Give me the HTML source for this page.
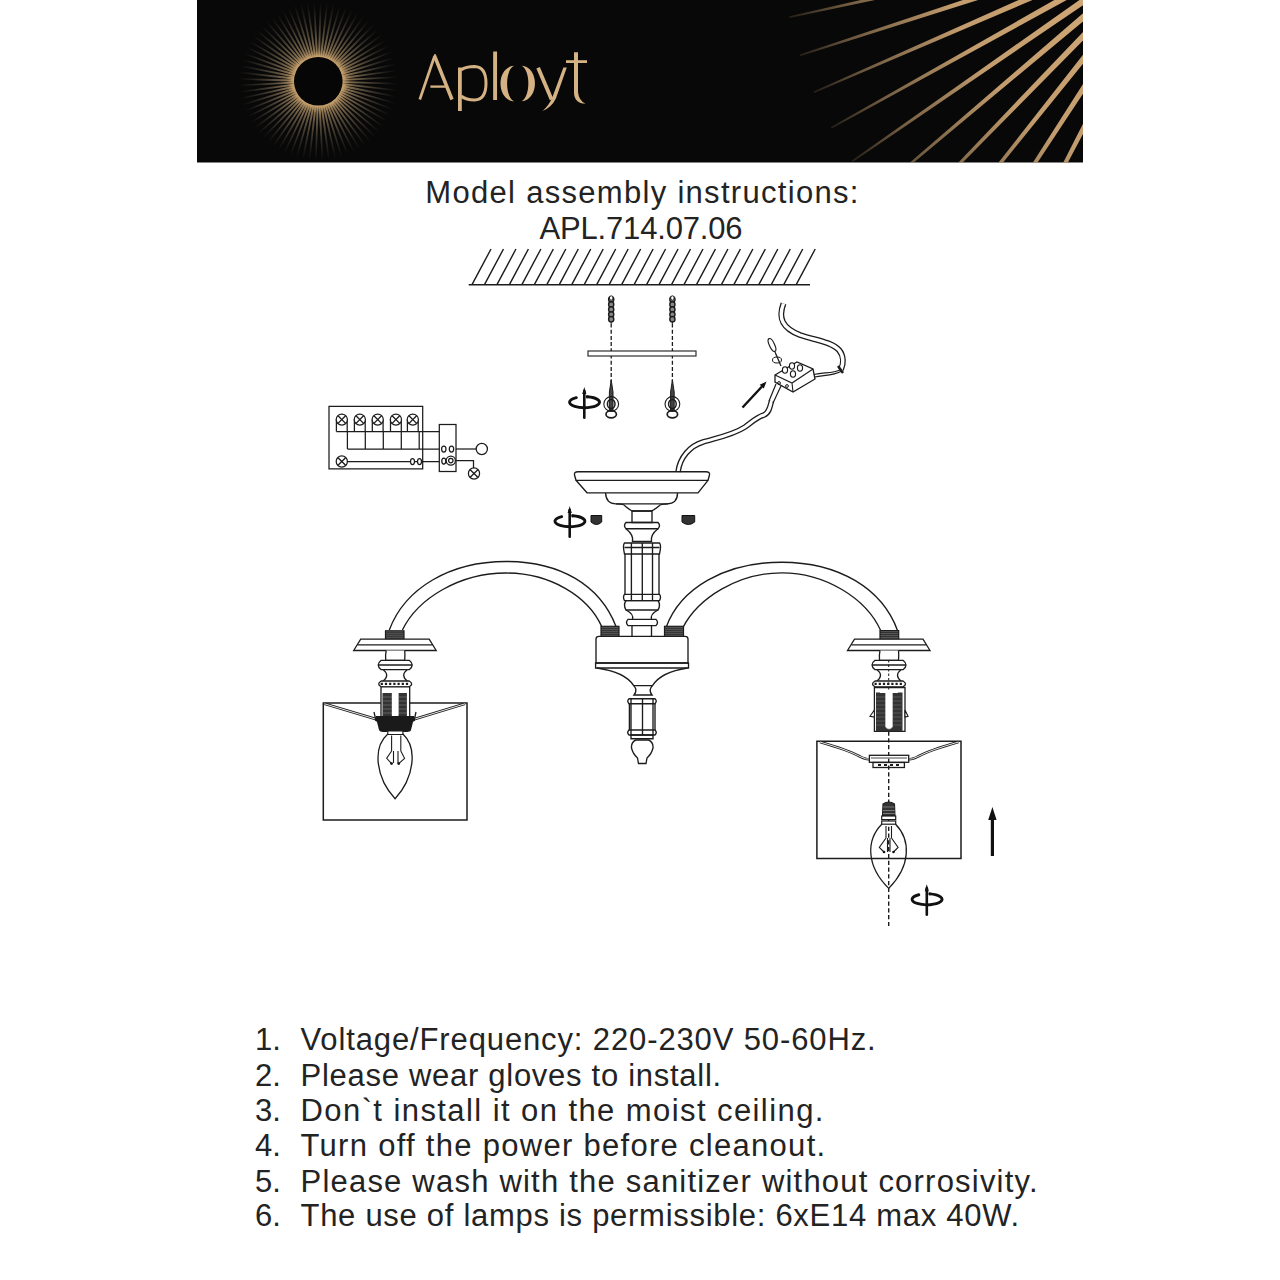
<!DOCTYPE html>
<html><head><meta charset="utf-8"><style>
html,body{margin:0;padding:0;background:#fff;}
body{width:1280px;height:1280px;position:relative;overflow:hidden;font-family:"Liberation Sans",sans-serif;color:#232323;}
svg{position:absolute;left:0;top:0;}
.t{position:absolute;white-space:nowrap;line-height:1;}
.li{position:absolute;left:0;white-space:nowrap;font-size:31px;line-height:1;}
.li .n{position:absolute;left:255px;}
.li .x{position:absolute;left:300.5px;}
</style></head><body>
<svg width="1280" height="1280" viewBox="0 0 1280 1280">
<defs>
<filter id="bl" x="-10%" y="-10%" width="120%" height="120%"><feGaussianBlur stdDeviation="0.35"/></filter>
<radialGradient id="sbg" cx="318.3" cy="81.3" r="80" gradientUnits="userSpaceOnUse">
<stop offset="0.29" stop-color="#fff"/><stop offset="0.4" stop-color="#aaa"/><stop offset="0.7" stop-color="#505050"/><stop offset="1" stop-color="#000"/></radialGradient>
<mask id="sbmask" maskUnits="userSpaceOnUse" x="0" y="0" width="1280" height="200"><rect x="200" y="0" width="250" height="162" fill="url(#sbg)"/></mask>
<radialGradient id="rg" cx="1186" cy="-70" r="408" gradientUnits="userSpaceOnUse">
<stop offset="0.3" stop-color="#fff"/><stop offset="0.6" stop-color="#eee"/><stop offset="0.85" stop-color="#888"/><stop offset="1" stop-color="#222"/></radialGradient>
<mask id="rmask" maskUnits="userSpaceOnUse" x="0" y="0" width="1280" height="200"><rect x="600" y="0" width="680" height="170" fill="url(#rg)"/></mask>
<radialGradient id="sbcol" cx="318.3" cy="81.3" r="81" gradientUnits="userSpaceOnUse"><stop offset="0.29" stop-color="#d6ac72"/><stop offset="0.5" stop-color="#b09670"/><stop offset="1" stop-color="#8a8070"/></radialGradient>
<clipPath id="hclip"><rect x="197" y="0" width="886" height="162.5"/></clipPath>
</defs><rect x="197" y="0" width="886" height="162.5" fill="#080808"/><g mask="url(#sbmask)"><path d="M341.76 83.05 L399.24 84.48 L399.29 82.98 L341.82 80.96Z M341.53 84.99 L398.70 91.15 L398.87 89.66 L341.77 82.90Z M341.15 86.89 L397.61 97.76 L397.90 96.29 L341.56 84.83Z M340.61 88.76 L395.98 104.25 L396.40 102.81 L341.19 86.74Z M339.92 90.58 L393.82 110.59 L394.35 109.19 L340.66 88.61Z M339.08 92.33 L391.15 116.73 L391.79 115.37 L339.98 90.43Z M338.10 94.01 L387.97 122.62 L388.73 121.32 L339.15 92.19Z M336.98 95.60 L384.32 128.23 L385.18 127.00 L338.18 93.88Z M335.73 97.09 L380.22 133.52 L381.18 132.37 L337.07 95.47Z M334.37 98.48 L375.70 138.46 L376.75 137.39 L335.84 96.98Z M332.90 99.75 L370.78 143.00 L371.91 142.02 L334.48 98.37Z M331.32 100.89 L365.51 147.13 L366.72 146.24 L333.02 99.65Z M329.66 101.90 L359.91 150.80 L361.19 150.02 L331.45 100.80Z M327.92 102.77 L354.03 154.00 L355.37 153.32 L329.80 101.82Z M326.12 103.49 L347.90 156.70 L349.29 156.14 L328.06 102.70Z M324.26 104.06 L341.57 158.89 L343.01 158.44 L326.26 103.43Z M322.36 104.47 L335.09 160.54 L336.55 160.22 L324.41 104.02Z M320.43 104.73 L328.49 161.66 L329.97 161.46 L322.51 104.44Z M318.49 104.82 L321.82 162.23 L323.31 162.15 L320.59 104.71Z M316.55 104.76 L315.12 162.24 L316.62 162.29 L318.64 104.82Z M314.61 104.53 L308.45 161.70 L309.94 161.87 L316.70 104.77Z M312.71 104.15 L301.84 160.61 L303.31 160.90 L314.77 104.56Z M310.84 103.61 L295.35 158.98 L296.79 159.40 L312.86 104.19Z M309.02 102.92 L289.01 156.82 L290.41 157.35 L310.99 103.66Z M307.27 102.08 L282.87 154.15 L284.23 154.79 L309.17 102.98Z M305.59 101.10 L276.98 150.97 L278.28 151.73 L307.41 102.15Z M304.00 99.98 L271.37 147.32 L272.60 148.18 L305.72 101.18Z M302.51 98.73 L266.08 143.22 L267.23 144.18 L304.13 100.07Z M301.12 97.37 L261.14 138.70 L262.21 139.75 L302.62 98.84Z M299.85 95.90 L256.60 133.78 L257.58 134.91 L301.23 97.48Z M298.71 94.32 L252.47 128.51 L253.36 129.72 L299.95 96.02Z M297.70 92.66 L248.80 122.91 L249.58 124.19 L298.80 94.45Z M296.83 90.92 L245.60 117.03 L246.28 118.37 L297.78 92.80Z M296.11 89.12 L242.90 110.90 L243.46 112.29 L296.90 91.06Z M295.54 87.26 L240.71 104.57 L241.16 106.01 L296.17 89.26Z M295.13 85.36 L239.06 98.09 L239.38 99.55 L295.58 87.41Z M294.87 83.43 L237.94 91.49 L238.14 92.97 L295.16 85.51Z M294.78 81.49 L237.37 84.82 L237.45 86.31 L294.89 83.59Z M294.84 79.55 L237.36 78.12 L237.31 79.62 L294.78 81.64Z M295.07 77.61 L237.90 71.45 L237.73 72.94 L294.83 79.70Z M295.45 75.71 L238.99 64.84 L238.70 66.31 L295.04 77.77Z M295.99 73.84 L240.62 58.35 L240.20 59.79 L295.41 75.86Z M296.68 72.02 L242.78 52.01 L242.25 53.41 L295.94 73.99Z M297.52 70.27 L245.45 45.87 L244.81 47.23 L296.62 72.17Z M298.50 68.59 L248.63 39.98 L247.87 41.28 L297.45 70.41Z M299.62 67.00 L252.28 34.37 L251.42 35.60 L298.42 68.72Z M300.87 65.51 L256.38 29.08 L255.42 30.23 L299.53 67.13Z M302.23 64.12 L260.90 24.14 L259.85 25.21 L300.76 65.62Z M303.70 62.85 L265.82 19.60 L264.69 20.58 L302.12 64.23Z M305.28 61.71 L271.09 15.47 L269.88 16.36 L303.58 62.95Z M306.94 60.70 L276.69 11.80 L275.41 12.58 L305.15 61.80Z M308.68 59.83 L282.57 8.60 L281.23 9.28 L306.80 60.78Z M310.48 59.11 L288.70 5.90 L287.31 6.46 L308.54 59.90Z M312.34 58.54 L295.03 3.71 L293.59 4.16 L310.34 59.17Z M314.24 58.13 L301.51 2.06 L300.05 2.38 L312.19 58.58Z M316.17 57.87 L308.11 0.94 L306.63 1.14 L314.09 58.16Z M318.11 57.78 L314.78 0.37 L313.29 0.45 L316.01 57.89Z M320.05 57.84 L321.48 0.36 L319.98 0.31 L317.96 57.78Z M321.99 58.07 L328.15 0.90 L326.66 0.73 L319.90 57.83Z M323.89 58.45 L334.76 1.99 L333.29 1.70 L321.83 58.04Z M325.76 58.99 L341.25 3.62 L339.81 3.20 L323.74 58.41Z M327.58 59.68 L347.59 5.78 L346.19 5.25 L325.61 58.94Z M329.33 60.52 L353.73 8.45 L352.37 7.81 L327.43 59.62Z M331.01 61.50 L359.62 11.63 L358.32 10.87 L329.19 60.45Z M332.60 62.62 L365.23 15.28 L364.00 14.42 L330.88 61.42Z M334.09 63.87 L370.52 19.38 L369.37 18.42 L332.47 62.53Z M335.48 65.23 L375.46 23.90 L374.39 22.85 L333.98 63.76Z M336.75 66.70 L380.00 28.82 L379.02 27.69 L335.37 65.12Z M337.89 68.28 L384.13 34.09 L383.24 32.88 L336.65 66.58Z M338.90 69.94 L387.80 39.69 L387.02 38.41 L337.80 68.15Z M339.77 71.68 L391.00 45.57 L390.32 44.23 L338.82 69.80Z M340.49 73.48 L393.70 51.70 L393.14 50.31 L339.70 71.54Z M341.06 75.34 L395.89 58.03 L395.44 56.59 L340.43 73.34Z M341.47 77.24 L397.54 64.51 L397.22 63.05 L341.02 75.19Z M341.73 79.17 L398.66 71.11 L398.46 69.63 L341.44 77.09Z M341.82 81.11 L399.23 77.78 L399.15 76.29 L341.71 79.01Z" fill="url(#sbcol)" filter="url(#bl)"/></g><circle cx="318.3" cy="81.3" r="24.3" fill="#060606"/><g clip-path="url(#hclip)" mask="url(#rmask)"><path d="M1125.93 -72.40 L780.08 -62.11 L780.11 -60.31 L1126.09 -65.00Z M1125.99 -66.55 L782.77 -22.68 L782.98 -20.89 L1126.86 -59.20Z M1126.61 -60.73 L789.28 16.30 L789.66 18.06 L1128.19 -53.50Z M1127.79 -55.00 L799.55 54.47 L800.11 56.18 L1130.07 -47.96Z M1129.52 -49.41 L813.48 91.46 L814.20 93.11 L1132.48 -42.63Z M1131.79 -44.01 L830.95 126.91 L831.82 128.49 L1135.40 -37.55Z M1134.58 -38.87 L851.78 160.50 L852.80 161.98 L1138.79 -32.78Z M1137.85 -34.01 L875.77 191.91 L876.94 193.28 L1142.63 -28.37Z M1141.57 -29.50 L902.71 220.83 L904.00 222.09 L1146.89 -24.35Z M1145.72 -25.37 L932.33 247.00 L933.74 248.12 L1151.51 -20.76Z M1150.25 -21.67 L964.36 270.16 L965.87 271.14 L1156.46 -17.64Z M1155.12 -18.42 L998.49 290.10 L1000.08 290.93 L1161.69 -15.02Z M1160.28 -15.66 L1034.39 306.63 L1036.06 307.30 L1167.15 -12.92Z M1165.69 -13.42 L1071.73 319.59 L1073.46 320.09 L1172.79 -11.35Z M1171.29 -11.71 L1110.15 328.85 L1111.92 329.19 L1178.56 -10.35Z M1177.02 -10.56 L1149.29 334.34 L1151.09 334.50 L1184.39 -9.91Z" fill="#d0a775"/></g><g fill="none" stroke="#d5b283" stroke-linecap="butt"><path d="M419.8 99.5 L434.6 56" stroke-width="2.7"/><path d="M434.6 56 L452 99.5" stroke-width="3.5"/><path d="M434 55.5 L436 55.5" stroke-width="2.5"/><path d="M430.4 86.6 H446" stroke-width="2.3"/><path d="M459.9 67.5 V111" stroke-width="3.8"/><path d="M461 70 Q466 66.6 474.6 66.6 Q486 67 486 83.3 Q486 99.7 474.6 100 Q466 100 461 96" stroke-width="3"/><path d="M495.1 51.5 V100" stroke-width="3.9"/></g><path d="M514 65.8 C496 67 496 100 514 101.3 C504.8 97 504.8 70 514 65.8Z" fill="#d5b283"/><path d="M521.5 65.8 C539.5 67 539.5 100 521.5 101.3 C530.7 97 530.7 70 521.5 65.8Z" fill="#d5b283"/><path d="M538.1 67.7 L551.6 99.5" stroke="#d5b283" stroke-width="3.8" fill="none"/><path d="M563.4 67.5 L566.8 67.5 L555.9 98.5 Q551.5 107.5 542.5 111 Q548.5 106 552.3 97.5 Z" fill="#d5b283"/><path d="M574 52.3 H578 V92 Q578.8 100.5 585.5 103.8 Q574.2 103.2 574 93 Z" fill="#d5b283"/><path d="M566 61.6 H587" stroke="#d5b283" stroke-width="2.8" fill="none"/>
<path d="M468.7 284.7 H810 M472.00 284.7 L491.00 249 M484.47 284.7 L503.47 249 M496.94 284.7 L515.94 249 M509.41 284.7 L528.41 249 M521.88 284.7 L540.88 249 M534.35 284.7 L553.35 249 M546.82 284.7 L565.82 249 M559.29 284.7 L578.29 249 M571.76 284.7 L590.76 249 M584.23 284.7 L603.23 249 M596.70 284.7 L615.70 249 M609.17 284.7 L628.17 249 M621.64 284.7 L640.64 249 M634.11 284.7 L653.11 249 M646.58 284.7 L665.58 249 M659.05 284.7 L678.05 249 M671.52 284.7 L690.52 249 M683.99 284.7 L702.99 249 M696.46 284.7 L715.46 249 M708.93 284.7 L727.93 249 M721.40 284.7 L740.40 249 M733.87 284.7 L752.87 249 M746.34 284.7 L765.34 249 M758.81 284.7 L777.81 249 M771.28 284.7 L790.28 249 M783.75 284.7 L802.75 249 M796.22 284.7 L815.22 249" stroke="#1c1c1c" stroke-width="1.4" fill="none"/><path d="M611.2 296.5 v27" stroke="#1c1c1c" stroke-width="1.2"/><ellipse cx="611.2" cy="299.5" rx="2.6" ry="2.7" fill="#888" stroke="#1c1c1c" stroke-width="1.4"/><ellipse cx="611.2" cy="304.5" rx="2.6" ry="2.7" fill="#888" stroke="#1c1c1c" stroke-width="1.4"/><ellipse cx="611.2" cy="309.5" rx="2.6" ry="2.7" fill="#888" stroke="#1c1c1c" stroke-width="1.4"/><ellipse cx="611.2" cy="314.5" rx="2.6" ry="2.7" fill="#888" stroke="#1c1c1c" stroke-width="1.4"/><ellipse cx="611.2" cy="319.2" rx="2.6" ry="2.7" fill="#888" stroke="#1c1c1c" stroke-width="1.4"/><ellipse cx="611.2" cy="298" rx="1.8" ry="2.2" fill="#fff" stroke="#1c1c1c" stroke-width="1"/><path d="M611.2 323.5 V382" stroke="#1c1c1c" stroke-width="1.3" stroke-dasharray="4 2.2" fill="none"/><path d="M611.2 380 L609.4 392 L609.4 410 L613.0 410 L613.0 392 Z" fill="#444" stroke="#1c1c1c" stroke-width="1"/><circle cx="611.2" cy="404" r="7.4" fill="none" stroke="#1c1c1c" stroke-width="1.1"/><ellipse cx="611.2" cy="404" rx="3.8" ry="4.6" fill="none" stroke="#1c1c1c" stroke-width="1.5"/><ellipse cx="611.2" cy="414.2" rx="5.2" ry="3.6" fill="none" stroke="#1c1c1c" stroke-width="1.7"/><path d="M672.4 296.5 v27" stroke="#1c1c1c" stroke-width="1.2"/><ellipse cx="672.4" cy="299.5" rx="2.6" ry="2.7" fill="#888" stroke="#1c1c1c" stroke-width="1.4"/><ellipse cx="672.4" cy="304.5" rx="2.6" ry="2.7" fill="#888" stroke="#1c1c1c" stroke-width="1.4"/><ellipse cx="672.4" cy="309.5" rx="2.6" ry="2.7" fill="#888" stroke="#1c1c1c" stroke-width="1.4"/><ellipse cx="672.4" cy="314.5" rx="2.6" ry="2.7" fill="#888" stroke="#1c1c1c" stroke-width="1.4"/><ellipse cx="672.4" cy="319.2" rx="2.6" ry="2.7" fill="#888" stroke="#1c1c1c" stroke-width="1.4"/><ellipse cx="672.4" cy="298" rx="1.8" ry="2.2" fill="#fff" stroke="#1c1c1c" stroke-width="1"/><path d="M672.4 323.5 V382" stroke="#1c1c1c" stroke-width="1.3" stroke-dasharray="4 2.2" fill="none"/><path d="M672.4 380 L670.6 392 L670.6 410 L674.2 410 L674.2 392 Z" fill="#444" stroke="#1c1c1c" stroke-width="1"/><circle cx="672.4" cy="404" r="7.4" fill="none" stroke="#1c1c1c" stroke-width="1.1"/><ellipse cx="672.4" cy="404" rx="3.8" ry="4.6" fill="none" stroke="#1c1c1c" stroke-width="1.5"/><ellipse cx="672.4" cy="414.2" rx="5.2" ry="3.6" fill="none" stroke="#1c1c1c" stroke-width="1.7"/><rect x="588" y="351" width="108" height="5" fill="#fff" stroke="#1c1c1c" stroke-width="1.1"/><g fill="none" stroke="#111" stroke-width="2.9" stroke-linecap="round"><path d="M587.30 396.80 A15.00 5.50 0 1 1 576.30 397.62"/><path d="M584.3 391.1 V417.7" stroke-width="2.6"/></g><path d="M584.3 387.1 L582.2 394.1 L586.4 394.1 Z" fill="#111"/><path d="M586.3 395.2 L592.3 396.9 L586.3 398.4 Z" fill="#111"/><g fill="none" stroke="#111" stroke-width="2.9" stroke-linecap="round"><path d="M572.70 515.80 A15.00 5.50 0 1 1 561.70 516.62"/><path d="M569.7 510.1 V536.7" stroke-width="2.6"/></g><path d="M569.7 506.1 L567.6 513.1 L571.8 513.1 Z" fill="#111"/><path d="M571.7 514.2 L577.7 515.9 L571.7 517.4 Z" fill="#111"/><g fill="none" stroke="#111" stroke-width="2.9" stroke-linecap="round"><path d="M929.80 893.90 A15.00 5.50 0 1 1 918.80 894.73"/><path d="M926.8 888.2 V914.8" stroke-width="2.6"/></g><path d="M926.8 884.2 L924.7 891.2 L928.9 891.2 Z" fill="#111"/><path d="M928.8 892.3 L934.8 894.0 L928.8 895.5 Z" fill="#111"/><g fill="none" stroke="#1c1c1c" stroke-width="1.25"><path d="M329 406.3 H422.7 V468.8 H329 Z"/><path d="M336.4 419.6 V431.6 M347.2 419.6 V431.6"/><circle cx="341.8" cy="419.6" r="5.6" fill="#fff"/><path d="M338.0 415.8 L345.6 423.4 M338.0 423.4 L345.6 415.8" stroke-width="1.3"/><path d="M354.4 419.6 V431.6 M365.2 419.6 V431.6"/><circle cx="359.8" cy="419.6" r="5.6" fill="#fff"/><path d="M356.0 415.8 L363.6 423.4 M356.0 423.4 L363.6 415.8" stroke-width="1.3"/><path d="M372.3 419.6 V431.6 M383.1 419.6 V431.6"/><circle cx="377.7" cy="419.6" r="5.6" fill="#fff"/><path d="M373.9 415.8 L381.5 423.4 M373.9 423.4 L381.5 415.8" stroke-width="1.3"/><path d="M390.5 419.6 V431.6 M401.3 419.6 V431.6"/><circle cx="395.9" cy="419.6" r="5.6" fill="#fff"/><path d="M392.1 415.8 L399.7 423.4 M392.1 423.4 L399.7 415.8" stroke-width="1.3"/><path d="M407.4 419.6 V431.6 M418.2 419.6 V431.6"/><circle cx="412.8" cy="419.6" r="5.6" fill="#fff"/><path d="M409.0 415.8 L416.6 423.4 M409.0 423.4 L416.6 415.8" stroke-width="1.3"/><path d="M336.4 431.6 H442"/><path d="M347.4 449 H442 M347.4 431.6 V449 M365.3 431.6 V449 M383.3 431.6 V449 M401.3 431.6 V449 M419.2 431.6 V449"/><circle cx="341.8" cy="461.5" r="5.6" fill="#fff"/><path d="M338 457.7 L345.6 465.3 M338 465.3 L345.6 457.7" stroke-width="1.3"/><path d="M347.4 461.5 H439.3"/><ellipse cx="412.5" cy="461.5" rx="2" ry="3" fill="#fff"/><ellipse cx="419.5" cy="461.5" rx="2" ry="3" fill="#fff"/><rect x="439.3" y="424.5" width="16.7" height="47" fill="#fff"/><ellipse cx="443.8" cy="449" rx="2.2" ry="3" fill="#fff"/><ellipse cx="451.5" cy="449" rx="2.2" ry="3" fill="#fff"/><ellipse cx="443.8" cy="461" rx="2" ry="3" fill="#fff"/><circle cx="450.8" cy="460.6" r="4.6" fill="#fff"/><circle cx="450.8" cy="460.6" r="2.2" fill="#fff"/><path d="M456 449 H476.3"/><circle cx="481.8" cy="449" r="5.6" fill="#fff"/><path d="M456 460.5 H473.5 V468"/><circle cx="474" cy="473.5" r="5.6" fill="#fff"/><path d="M470.2 469.7 L477.8 477.3 M470.2 477.3 L477.8 469.7" stroke-width="1.3"/></g>
<path d="M678 472 C680 457 690 446 703 442 C716 438 733 435 745 427 C752 422 757 417 764 415 C769 413 770 407 771.5 401" stroke="#1c1c1c" stroke-width="5.6" fill="none"/><path d="M678 472 C680 457 690 446 703 442 C716 438 733 435 745 427 C752 422 757 417 764 415 C769 413 770 407 771.5 401" stroke="#fff" stroke-width="3" fill="none"/><path d="M783.5 303.5 C778 318 782 328 800 335 C815 340 832 342 839 350 C844 356 843.5 364 841 369.5" stroke="#1c1c1c" stroke-width="6" fill="none"/><path d="M783.5 303.5 C778 318 782 328 800 335 C815 340 832 342 839 350 C844 356 843.5 364 841 369.5" stroke="#fff" stroke-width="3.4" fill="none"/><path d="M769 401 L776 384 M773 403 L781 386" stroke="#1c1c1c" stroke-width="1.2" fill="none"/><path d="M775 375 L797 362 L813 369 L815 379 L793 392 L775 382 Z" fill="#fff" stroke="#1c1c1c" stroke-width="1.3"/><path d="M775 375 L792 383 L813 369 M792 383 L793 392" stroke="#1c1c1c" stroke-width="1.1" fill="none"/><ellipse cx="785" cy="370" rx="2.6" ry="3.2" fill="#fff" stroke="#1c1c1c" stroke-width="1.1"/><ellipse cx="792" cy="366" rx="2.6" ry="3.2" fill="#fff" stroke="#1c1c1c" stroke-width="1.1"/><ellipse cx="800" cy="368" rx="2.6" ry="3.2" fill="#fff" stroke="#1c1c1c" stroke-width="1.1"/><ellipse cx="793" cy="374" rx="2.6" ry="3.2" fill="#fff" stroke="#1c1c1c" stroke-width="1.1"/><circle cx="779" cy="383" r="1.4" fill="none" stroke="#1c1c1c"/><circle cx="787" cy="386" r="1.4" fill="none" stroke="#1c1c1c"/><ellipse cx="772" cy="345" rx="2.6" ry="7" transform="rotate(-25 772 345)" fill="#fff" stroke="#1c1c1c" stroke-width="1.2"/><path d="M775 352 L781 366" stroke="#1c1c1c" stroke-width="1.3"/><ellipse cx="777" cy="360" rx="4.5" ry="3" fill="none" stroke="#1c1c1c" stroke-width="1"/><path d="M742.5 407.5 L762 386.5" stroke="#111" stroke-width="2.4"/><path d="M766.5 381.5 L763.8 388.6 L759.7 384.8 Z" fill="#111"/><path d="M841 369.5 C832 374 824 372 814 374.5 M842 371 C833 376 825 375 814.5 377" stroke="#1c1c1c" stroke-width="1.2" fill="none"/><path d="M838 366 L843 373" stroke="#1c1c1c" stroke-width="2.5"/><g fill="none" stroke="#1c1c1c" stroke-width="1.35"><path d="M578 471.7 H706 Q710 471.7 709.5 475 L708 480.3 H576 L574.5 475 Q574 471.7 578 471.7 Z"/><path d="M576 480.3 L587 492.8 H698 L708 480.3"/><path d="M605.6 493 Q606 503.8 616 503.8 H667 Q677.5 503.8 677.5 493"/><path d="M616 503.8 Q625 504 625 506 Q630 510 632 511 H651.5 Q654 510 659 506 Q660 504 668 503.8"/><path d="M632 511 H652 V522.5 H632 Z"/><path d="M626 522.5 H658 Q661 525.6 658 528.7 H626 Q623 525.6 626 522.5 Z"/><path d="M626 528.7 Q634 535 632.5 541.5 H651.5 Q650 535 658 528.7"/><path d="M624.5 543 H659.5 Q661.5 545 659.5 554 H624.5 Q622.5 545 624.5 543 Z"/><path d="M624.5 547.5 H659.5"/><path d="M625 554 V594.4 M659 554 V594.4 M631.4 543 V600 M642.3 543 V600 M652.5 543 V600"/><path d="M624.5 594.4 H659.5 Q661.5 597 659.5 600.6 H624.5 Q622.5 597 624.5 594.4 Z"/><path d="M626 600.6 H658 Q661 605 658 610 H626 Q623 605 626 600.6 Z"/><path d="M626 610 Q634 614 632.5 619.4 M658 610 Q650 614 651.5 619.4"/><path d="M628 619.4 H656 Q659 622.5 656 625.6 H628 Q625 622.5 628 619.4 Z"/><path d="M632 625.6 V636 M651.5 625.6 V636"/><path d="M599 636.3 H685 Q688 636.3 688 639 V663 H596 V639 Q596 636.3 599 636.3 Z"/><path d="M595.6 663 H688.5 V668 H595.6 Z"/><path d="M597 668 Q625 672 633.7 685.6 H652.5 Q661 672 687.5 668"/><path d="M633.7 685.6 Q638 690 634 695 H652 Q648 690 652.5 685.6"/><path d="M629 698.7 H655 Q657.5 701 655 703.7 H629 Q626.5 701 629 698.7 Z"/><path d="M629.4 703.7 V730 M655 703.7 V730 M631 698.7 V735 M642.5 698.7 V735 M653 698.7 V735"/><path d="M629 730 H655 Q657.5 732.5 655 735 H629 Q626.5 732.5 629 730 Z"/><path d="M631 735 H653 V738.7 H631 Z"/><path d="M636 740 Q631 742 631.5 748 Q633 754 637.5 758 L638.5 763.5 H646 L647 758 Q651.5 754 653 748 Q653.5 742 648.5 740 Z"/><path d="M389.3 630 C405 588 450 561.5 506 561.5 C560 561.5 600 585 616 626.5"/><path d="M402.4 630 C418 598 460 573 506 573 C550 573 588 596 601.7 626.5"/><path d="M666 627.7 C680 588 725 562.2 781.8 562.2 C838 562.2 882 588 897.6 630.7"/><path d="M682.8 627.7 C698 598 738 572.8 781.8 572.8 C825 572.8 866 598 880.8 630.7"/></g><rect x="601.0" y="626.3" width="18.0" height="10.0" fill="#5c5c5c" stroke="#1c1c1c" stroke-width="1.2"/><path d="M601.0 628.3 H619.0" stroke="#222" stroke-width="0.8"/><path d="M601.0 630.3 H619.0" stroke="#222" stroke-width="0.8"/><path d="M601.0 632.3 H619.0" stroke="#222" stroke-width="0.8"/><path d="M601.0 634.3 H619.0" stroke="#222" stroke-width="0.8"/><rect x="664.5" y="626.3" width="19.0" height="10.0" fill="#5c5c5c" stroke="#1c1c1c" stroke-width="1.2"/><path d="M664.5 628.3 H683.5" stroke="#222" stroke-width="0.8"/><path d="M664.5 630.3 H683.5" stroke="#222" stroke-width="0.8"/><path d="M664.5 632.3 H683.5" stroke="#222" stroke-width="0.8"/><path d="M664.5 634.3 H683.5" stroke="#222" stroke-width="0.8"/><rect x="385.5" y="630.8" width="18.5" height="8.4" fill="#5c5c5c" stroke="#1c1c1c" stroke-width="1.2"/><path d="M385.5 632.8 H404.0" stroke="#222" stroke-width="0.8"/><path d="M385.5 634.8 H404.0" stroke="#222" stroke-width="0.8"/><path d="M385.5 636.8 H404.0" stroke="#222" stroke-width="0.8"/><rect x="880.0" y="630.6" width="18.7" height="8.8" fill="#5c5c5c" stroke="#1c1c1c" stroke-width="1.2"/><path d="M880.0 632.6 H898.7" stroke="#222" stroke-width="0.8"/><path d="M880.0 634.6 H898.7" stroke="#222" stroke-width="0.8"/><path d="M880.0 636.6 H898.7" stroke="#222" stroke-width="0.8"/><path d="M591 515.5 H601.7 V522 Q596.5 527 591 522 Z" fill="#333" stroke="#111" stroke-width="1"/><path d="M682 515.5 H694.7 V522 Q688.3 527 682 522 Z" fill="#333" stroke="#111" stroke-width="1"/><g fill="#fff" stroke="#1c1c1c" stroke-width="1.3"><path d="M360.7 639.2 H429.2 L436.2 650.5 H353.7 Z"/><path d="M357.7 644.8 H432.7"/><path d="M386.2 650.5 Q385.2 655 385.7 660.3 H404.7 Q405.2 655 404.7 650.5"/><path d="M381.2 660.3 H409.2 Q415.2 665 409.2 669.7 H381.2 Q375.2 665 381.2 660.3 Z"/><path d="M378.2 665 H412.2"/><path d="M383.2 669.7 Q390.2 675 383.2 681 M407.2 669.7 Q400.2 675 407.2 681"/><path d="M381.2 681 H409.2 Q414.2 684 409.2 686.8 H381.2 Q376.2 684 381.2 681 Z"/><path d="M380.7 683.9 H409.7" stroke-width="2.2" stroke-dasharray="2.2 2"/></g><path d="M323.3 703 H467 V820 H323.3 Z" fill="#fff" stroke="#1c1c1c" stroke-width="1.5"/><path d="M324.5 703.8 L375.4 719 Q377 720.7 380 720.7 H410 Q413 720.7 415 719 L465 703.8" fill="none" stroke="#1c1c1c" stroke-width="2.6"/><path d="M324.5 703.8 L375.4 719 Q377 720.7 380 720.7 H410 Q413 720.7 415 719 L465 703.8" fill="none" stroke="#fff" stroke-width="0.9"/><path d="M381 686.8 H409.7 V730.6 H381 Z" fill="#fff" stroke="#1c1c1c" stroke-width="1.3"/><rect x="382.5" y="693" width="9.4" height="26.3" fill="#333"/><rect x="398.4" y="693" width="8.5" height="26.3" fill="#333"/><path d="M376 716 Q375 720 377 722 L379 730 Q380 732 385 732 H405 Q410 732 411 730 L413 722 Q415 720 414 716 Z" fill="#1a1a1a"/><path d="M382.5 697 H391.9 M382.5 701 H391.9 M382.5 705 H391.9 M382.5 709 H391.9 M382.5 713 H391.9 M398.4 697 H406.9 M398.4 701 H406.9 M398.4 705 H406.9 M398.4 709 H406.9 M398.4 713 H406.9" stroke="#777" stroke-width="0.7"/><path d="M384 688.5 H406 V693 H398.4 V715 H391.9 V693 H384 Z" fill="#fff"/><path d="M374 712 L376 721 M416 712 L414 721" stroke="#1c1c1c" stroke-width="1.3"/><path d="M387.8 734 C372 748 376 778 395.1 798.7 C414 778 418 748 402.9 734 Z" fill="none" stroke="#1c1c1c" stroke-width="1.3"/><path d="M387.8 731 H402.9 V734.5 H387.8 Z" fill="#fff" stroke="#1c1c1c" stroke-width="1.1"/><path d="M391.6 735.5 V751 M400.8 735.5 V751 M391.6 751 L386.7 758.3 L391.6 763.6 M400.8 751 L404.6 758.3 L398.7 763.6 M393.5 751 L393.5 763 M398 751 L398 763" stroke="#1c1c1c" stroke-width="1.1" fill="none"/><circle cx="391.6" cy="763.6" r="1.4" fill="#111"/><circle cx="398.7" cy="763.6" r="1.4" fill="#111"/><g fill="#fff" stroke="#1c1c1c" stroke-width="1.3"><path d="M854.5 639.2 H923.0 L930.0 650.5 H847.5 Z"/><path d="M851.5 644.8 H926.5"/><path d="M880.0 650.5 Q879.0 655 879.5 660.3 H898.5 Q899.0 655 898.5 650.5"/><path d="M875.0 660.3 H903.0 Q909.0 665 903.0 669.7 H875.0 Q869.0 665 875.0 660.3 Z"/><path d="M872.0 665 H906.0"/><path d="M877.0 669.7 Q884.0 675 877.0 681 M901.0 669.7 Q894.0 675 901.0 681"/><path d="M875.0 681 H903.0 Q908.0 684 903.0 686.8 H875.0 Q870.0 684 875.0 681 Z"/><path d="M874.5 683.9 H903.5" stroke-width="2.2" stroke-dasharray="2.2 2"/></g><path d="M874.4 687.5 H905 V731.3 H874.4 Z" fill="#fff" stroke="#1c1c1c" stroke-width="1.3"/><rect x="876" y="692.5" width="26.5" height="38.8" fill="#333"/><path d="M876 697 H902.5 M876 701 H902.5 M876 705 H902.5 M876 709 H902.5 M876 713 H902.5 M876 717 H902.5 M876 721 H902.5 M876 725 H902.5" stroke="#666" stroke-width="0.7"/><path d="M885.5 692 H892.5 V727 Q889 731 885.5 727 Z" fill="#fff" stroke="#ccc" stroke-width="0.6"/><path d="M880 692 H898" stroke="#fff" stroke-width="2"/><path d="M870 716.3 L874.4 710 V717 Z M908 716.3 L905 710 V717 Z" fill="#fff" stroke="#1c1c1c" stroke-width="1.1"/><path d="M816.9 741.3 H961 V858.6 H816.9 Z" fill="#fff" stroke="#1c1c1c" stroke-width="1.5"/><path d="M820 742 Q848 750 860 756.5 Q865 759.5 872 759.5 H906 Q913 759.5 918 756.5 Q930 750 958.5 742" fill="none" stroke="#1c1c1c" stroke-width="2.6"/><path d="M820 742 Q848 750 860 756.5 Q865 759.5 872 759.5 H906 Q913 759.5 918 756.5 Q930 750 958.5 742" fill="none" stroke="#fff" stroke-width="0.9"/><rect x="869.4" y="755.3" width="39.3" height="7" fill="#fff" stroke="#1c1c1c" stroke-width="1.3"/><path d="M871 758 H907" stroke="#1c1c1c" stroke-width="0.8"/><rect x="873" y="762.5" width="31.4" height="5" fill="#fff" stroke="#1c1c1c" stroke-width="1.3"/><path d="M878 765 h3 M884 765 h3 M890 765 h3 M896 765 h3" stroke="#1c1c1c" stroke-width="2"/><path d="M888.7 731.5 V927.7" stroke="#1c1c1c" stroke-width="1.4" stroke-dasharray="4.2 2.6" fill="none"/><path d="M888.7 660 V690" stroke="#1c1c1c" stroke-width="1" stroke-dasharray="2.5 2" fill="none"/><path d="M882 824 C866 840 866 866 888.7 888.4 C911 866 911 840 895.4 824" fill="none" stroke="#1c1c1c" stroke-width="1.3"/><path d="M882.5 816 L883 804 Q888.7 800 894.5 804 L895 816 Z" fill="#333" stroke="#1c1c1c" stroke-width="1.1"/><path d="M883 807 H894.5 M883 810.5 H894.7 M883 813.5 H894.8" stroke="#888" stroke-width="0.8"/><rect x="881.7" y="816" width="14" height="3.6" fill="#fff" stroke="#1c1c1c" stroke-width="1.2"/><rect x="881.7" y="821" width="14" height="3.2" fill="#fff" stroke="#1c1c1c" stroke-width="1.2"/><path d="M886 826 V838 M891.5 826 V838 M886 838 L879.3 847.4 L884 852 M891.5 838 L898.1 847.4 L893.5 852 M887.5 838 V852 M890 838 V852" stroke="#1c1c1c" stroke-width="1.1" fill="none"/><circle cx="884" cy="852" r="1.3" fill="#111"/><circle cx="893.5" cy="852" r="1.3" fill="#111"/><path d="M992.4 818 V856" stroke="#111" stroke-width="3.2"/><path d="M992.4 807 L988.2 820 H996.6 Z" fill="#111"/>
</svg>

<div class="t" style="left:425.3px;top:177px;font-size:31px;letter-spacing:1.3px;">Model assembly instructions:</div>
<div class="t" style="left:539.5px;top:212.5px;font-size:31px;letter-spacing:-0.17px;">APL.714.07.06</div>
<div class="li" style="top:1024px"><span class="n">1.</span><span class="x" style="letter-spacing:0.874px">Voltage/Frequency: 220-230V 50-60Hz.</span></div>
<div class="li" style="top:1060.2px"><span class="n">2.</span><span class="x" style="letter-spacing:0.719px">Please wear gloves to install.</span></div>
<div class="li" style="top:1094.6px"><span class="n">3.</span><span class="x" style="letter-spacing:1.42px">Don`t install it on the moist ceiling.</span></div>
<div class="li" style="top:1129.8px"><span class="n">4.</span><span class="x" style="letter-spacing:1.29px">Turn off the power before cleanout.</span></div>
<div class="li" style="top:1166px"><span class="n">5.</span><span class="x" style="letter-spacing:1.21px">Please wash with the sanitizer without corrosivity.</span></div>
<div class="li" style="top:1200.4px"><span class="n">6.</span><span class="x" style="letter-spacing:0.713px">The use of lamps is permissible: 6xE14 max 40W.</span></div>

</body></html>
